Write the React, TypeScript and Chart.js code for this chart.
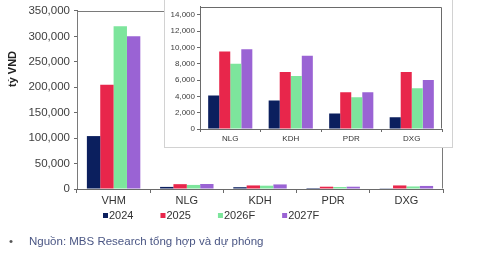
import React, { useEffect, useRef } from "react";
import { Chart, registerables } from "chart.js";

Chart.register(...registerables);

const FONT = "'Liberation Sans', Arial, sans-serif";

const categories = ["VHM", "NLG", "KDH", "PDR", "DXG"];
const seriesLabels = ["2024", "2025", "2026F", "2027F"];
const values2024 = [104000, 4100, 3500, 1900, 1450];
const values2025 = [205000, 9500, 7000, 4500, 7000];
const values2026F = [320000, 8000, 6500, 3900, 5000];
const values2027F = [300000, 9800, 9000, 4500, 6000];
const seriesColors = ["#0b1f5e", "#e8264b", "#7de59c", "#9a63d4"];

const mainYMax = 350000;
const mainYStep = 50000;
const insetYMax = 15000;
const insetYTicks = [0, 2000, 4000, 6000, 8000, 10000, 12000, 14000];
const yAxisTitle = "tỷ VND";
const sourceNote = "Nguồn: MBS Research tổng hợp và dự phóng";

const allSeries = [values2024, values2025, values2026F, values2027F];

const fmt = (v: number) => Number(v).toLocaleString("en-US");

const framePlugin = {
  id: "frame",
  afterDatasetsDraw(chart: any, _args: any, opts: any) {
    const { left, top, right, bottom } = chart.chartArea;
    const ctx = chart.ctx;
    ctx.save();
    ctx.strokeStyle = opts.color || "#777";
    ctx.lineWidth = 1;
    ctx.beginPath();
    const l = Math.round(left) + 0.5;
    const t = Math.round(top) + 0.5;
    const r = Math.round(right) - 0.5;
    const b = Math.round(bottom) - 0.5;
    ctx.moveTo(l, b);
    ctx.lineTo(l, t);
    ctx.lineTo(r, t);
    ctx.lineTo(r, b);
    ctx.stroke();
    ctx.restore();
  },
};

const legendPlugin = {
  id: "customLegend",
  afterDraw(chart: any, _args: any, opts: any) {
    if (!opts || !opts.enabled) return;
    const ctx = chart.ctx;
    ctx.save();
    ctx.font = `11px ${FONT}`;
    ctx.textBaseline = "middle";
    ctx.textAlign = "left";
    let x = opts.x;
    const y = opts.y;
    chart.data.datasets.forEach((ds: any) => {
      ctx.fillStyle = ds.backgroundColor;
      ctx.fillRect(x, y - 3, 5, 5);
      ctx.fillStyle = "#333";
      ctx.fillText(ds.label, x + 6, y);
      x += 6 + ctx.measureText(ds.label).width + opts.gap;
    });
    ctx.restore();
  },
};

const yTitlePlugin = {
  id: "yTitle",
  afterDraw(chart: any, _args: any, opts: any) {
    if (!opts || !opts.text) return;
    const ctx = chart.ctx;
    ctx.save();
    ctx.translate(opts.x, opts.y);
    ctx.rotate(-Math.PI / 2);
    ctx.font = `bold 11px ${FONT}`;
    ctx.fillStyle = "#222";
    ctx.textAlign = "center";
    ctx.textBaseline = "middle";
    ctx.fillText(opts.text, 0, 0);
    ctx.restore();
  },
};

function makeDatasets(startIndex: number) {
  return seriesLabels.map((label, i) => ({
    label,
    data: allSeries[i].slice(startIndex),
    backgroundColor: seriesColors[i],
    borderWidth: 0,
    categoryPercentage: 0.73,
    barPercentage: 1.0,
  }));
}

export default function App() {
  const mainRef = useRef<HTMLCanvasElement>(null);
  const insetRef = useRef<HTMLCanvasElement>(null);

  useEffect(() => {
    const axisColor = "#6a6a6a";
    const main = new Chart(mainRef.current as HTMLCanvasElement, {
      type: "bar",
      data: { labels: categories, datasets: makeDatasets(0) },
      plugins: [framePlugin, legendPlugin, yTitlePlugin],
      options: {
        responsive: false,
        animation: false,
        layout: { padding: { top: 10, right: 54, left: 0, bottom: 0 } },
        plugins: {
          legend: { display: false },
          tooltip: { enabled: false },
          frame: { color: "#7a7a7a" },
          customLegend: { enabled: true, x: 103, y: 216, gap: 27 },
          yTitle: { text: yAxisTitle, x: 13, y: 69 },
        } as any,
        scales: {
          x: {
            grid: {
              display: true,
              drawOnChartArea: false,
              drawTicks: true,
              tickLength: 4,
              color: axisColor,
              offset: true,
            },
            border: { color: axisColor },
            ticks: { font: { family: FONT, size: 11 }, color: "#333", padding: 1 },
            afterFit: (s: any) => {
              s.height = 72;
            },
          },
          y: {
            min: 0,
            max: mainYMax,
            grid: { drawOnChartArea: false, tickLength: 3, color: axisColor },
            border: { color: axisColor },
            ticks: {
              stepSize: mainYStep,
              callback: (v: any) => fmt(v),
              font: { family: FONT, size: 11.5 },
              color: "#404040",
              padding: 4,
            },
            afterFit: (s: any) => {
              s.width = 77;
            },
          },
        },
      } as any,
    });

    const inset = new Chart(insetRef.current as HTMLCanvasElement, {
      type: "bar",
      data: { labels: categories.slice(1), datasets: makeDatasets(1) },
      plugins: [framePlugin],
      options: {
        responsive: false,
        animation: false,
        layout: { padding: { top: 1, right: 9, left: 0, bottom: 0 } },
        plugins: {
          legend: { display: false },
          tooltip: { enabled: false },
          frame: { color: "#6a6a6a" },
        } as any,
        scales: {
          x: {
            grid: {
              display: true,
              drawOnChartArea: false,
              drawTicks: true,
              tickLength: 3,
              color: axisColor,
              offset: true,
            },
            border: { color: axisColor },
            ticks: { font: { family: FONT, size: 8 }, color: "#333", padding: 2 },
            afterFit: (s: any) => {
              s.height = 17;
            },
          },
          y: {
            min: 0,
            max: insetYMax,
            grid: { drawOnChartArea: false, tickLength: 3, color: axisColor },
            border: { color: axisColor },
            afterBuildTicks: (s: any) => {
              s.ticks = insetYTicks.map((v) => ({ value: v }));
            },
            ticks: {
              callback: (v: any) => fmt(v),
              font: { family: FONT, size: 8 },
              color: "#404040",
              padding: 2,
            },
            afterFit: (s: any) => {
              s.width = 35;
            },
          },
        },
      } as any,
    });

    return () => {
      main.destroy();
      inset.destroy();
    };
  }, []);

  return (
    <div
      style={{
        position: "fixed",
        left: 0,
        top: 0,
        width: 497,
        height: 261,
        background: "#fff",
        overflow: "hidden",
        fontFamily: FONT,
      }}
    >
      <canvas
        ref={mainRef}
        width={497}
        height={261}
        style={{ position: "absolute", left: 0, top: 0, width: 497, height: 261 }}
      />
      <div
        style={{
          position: "absolute",
          left: 164,
          top: -1,
          width: 289,
          height: 149,
          boxSizing: "border-box",
          border: "1px solid #d2d2d2",
          background: "#fff",
        }}
      />
      <canvas
        ref={insetRef}
        width={286}
        height={146}
        style={{ position: "absolute", left: 165, top: 0, width: 286, height: 146 }}
      />
      <div
        style={{
          position: "absolute",
          left: 9,
          top: 234,
          fontSize: 11.5,
          lineHeight: "15px",
          color: "#4a5684",
          whiteSpace: "nowrap",
        }}
      >
        <span style={{ display: "inline-block", width: 20, color: "#555" }}>•</span>
        <span>{sourceNote}</span>
      </div>
    </div>
  );
}
